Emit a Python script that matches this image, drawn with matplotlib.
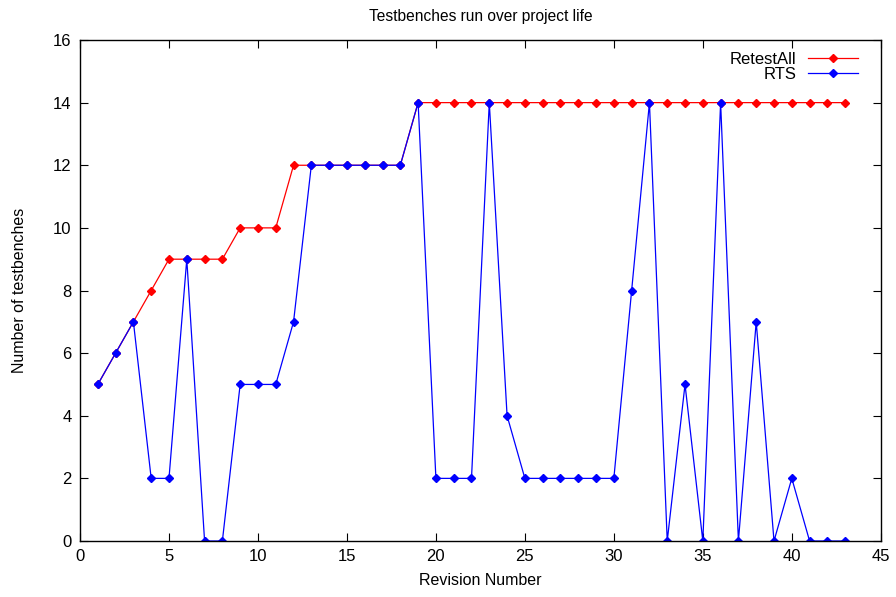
import matplotlib
matplotlib.use('Agg')
import matplotlib.pyplot as plt

revisions = list(range(1, 44))
retest_all = [5, 6, 7, 8, 9, 9, 9, 9, 10, 10, 10, 12, 12, 12, 12, 12, 12, 12, 14,
              14, 14, 14, 14, 14, 14, 14, 14, 14, 14, 14, 14, 14, 14, 14, 14, 14,
              14, 14, 14, 14, 14, 14, 14]
rts = [5, 6, 7, 2, 2, 9, 0, 0, 5, 5, 5, 7, 12, 12, 12, 12, 12, 12, 14,
       2, 2, 2, 14, 4, 2, 2, 2, 2, 2, 2, 8, 14, 0, 5, 0, 14, 0, 7, 0, 2, 0, 0, 0]

plt.rcParams['font.family'] = ['Liberation Sans', 'DejaVu Sans']
plt.rcParams['font.size'] = 12

fig = plt.figure(figsize=(8.96, 5.97), dpi=100)
ax = fig.add_axes([0.0893, 0.0938, 0.8937, 0.8392])

ax.plot(revisions, retest_all, color='red', lw=0.9, marker='D', ms=4, label='RetestAll')
ax.plot(revisions, rts, color='blue', lw=0.9, marker='D', ms=4, label='RTS')

ax.set_xlim(0, 45)
ax.set_ylim(0, 16)
ax.set_xticks(range(0, 46, 5))
ax.set_yticks(range(0, 17, 2))
ax.tick_params(direction='in', top=True, right=True, length=6, width=0.8, pad=6)
for s in ax.spines.values():
    s.set_linewidth(1.0)

ax.set_title('Testbenches run over project life', fontsize=11.2, pad=14)
ax.set_xlabel('Revision Number', fontsize=11.5, labelpad=6)
ax.set_ylabel('Number of testbenches', fontsize=11.5, labelpad=19)

leg = ax.legend(loc='upper right', bbox_to_anchor=(0.9775, 0.986), frameon=False,
                markerfirst=False, handlelength=3.0, borderaxespad=0.0,
                labelspacing=0.0, handletextpad=0.7, borderpad=0.3, fontsize=12)
for t in leg.get_texts():
    t.set_ha('right')

fig.savefig('out.png', dpi=100)
